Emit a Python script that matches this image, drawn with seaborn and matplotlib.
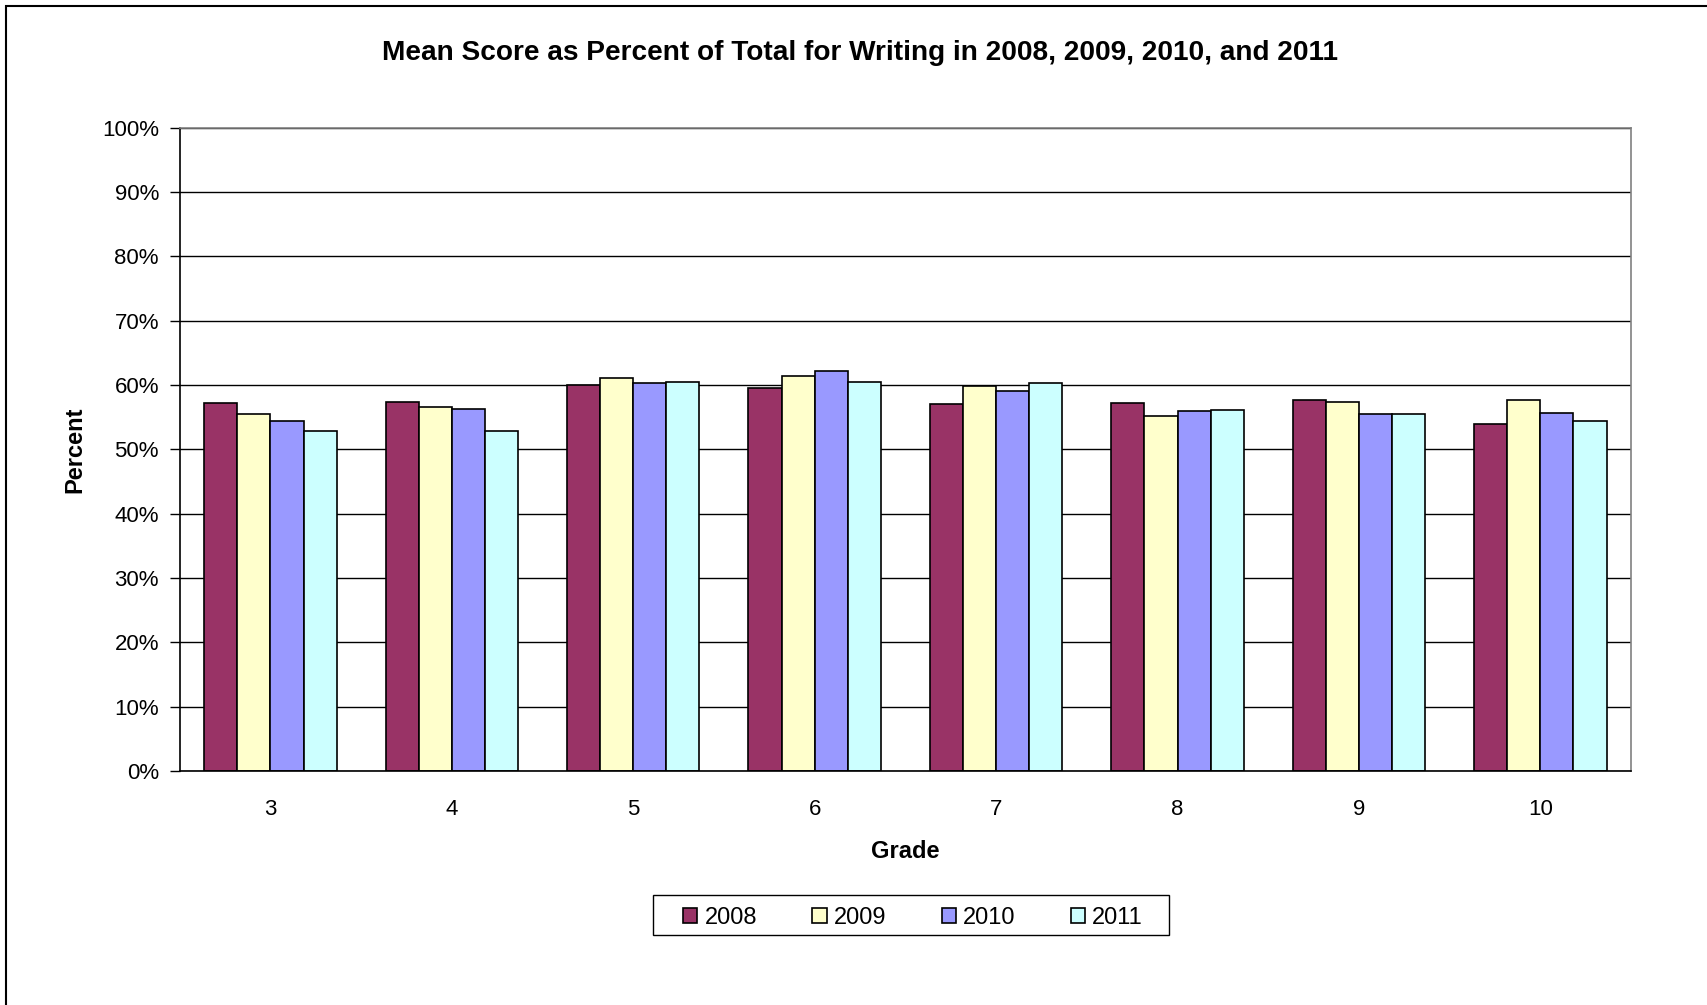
import matplotlib
matplotlib.use('Agg')
import matplotlib.pyplot as plt
import seaborn as sns
import pandas as pd
from matplotlib.patches import Rectangle
from matplotlib.ticker import FixedLocator, PercentFormatter

sns.set_style("white")
plt.rcParams['font.family'] = ['Liberation Sans', 'DejaVu Sans']
plt.rcParams['text.color'] = 'black'
plt.rcParams['axes.labelcolor'] = 'black'
plt.rcParams['xtick.color'] = 'black'
plt.rcParams['ytick.color'] = 'black'

# Data (percent)
grades = ['3', '4', '5', '6', '7', '8', '9', '10']
years = ['2008', '2009', '2010', '2011']
score_2008 = [57.2, 57.4, 60.0, 59.5, 57.0, 57.2, 57.6, 54.0]
score_2009 = [55.5, 56.5, 61.1, 61.4, 59.8, 55.2, 57.4, 57.6]
score_2010 = [54.4, 56.3, 60.3, 62.2, 59.0, 55.9, 55.5, 55.7]
score_2011 = [52.9, 52.9, 60.5, 60.5, 60.3, 56.1, 55.5, 54.4]
colors = ['#993366', '#FFFFCC', '#9999FF', '#CCFFFF']

rows = []
for yr, vals in zip(years, [score_2008, score_2009, score_2010, score_2011]):
    for g, v in zip(grades, vals):
        rows.append({'Grade': g, 'Year': yr, 'Percent': v})
df = pd.DataFrame(rows)

fig = plt.figure(figsize=(17.07, 10.05), dpi=100)
ax = fig.add_axes([0.1053, 0.2328, 0.9555 - 0.1053, 0.8731 - 0.2328])

ax.set_axisbelow(True)
ax.yaxis.grid(True, color='black', linewidth=1.0)
sns.barplot(data=df, x='Grade', y='Percent', hue='Year', order=grades,
            hue_order=years, palette=colors, width=0.73, gap=0,
            edgecolor='black', linewidth=1.2, saturation=1, ax=ax, legend=True)

ax.set_ylim(0, 100)
ax.set_xlim(-0.5, len(grades) - 0.5)
ax.set_yticks(range(0, 101, 10))
ax.yaxis.set_major_formatter(PercentFormatter(decimals=0))
ax.xaxis.set_minor_locator(FixedLocator([i - 0.5 for i in range(len(grades) + 1)]))
ax.tick_params(axis='x', which='major', length=0, pad=20, labelsize=16)
ax.tick_params(axis='x', which='minor', length=7, width=1, color='black', direction='out')
ax.tick_params(axis='y', length=7, width=1, color='black', direction='out', pad=8, labelsize=16, left=True)

for s in ['left', 'bottom']:
    ax.spines[s].set_color('black')
    ax.spines[s].set_linewidth(1.2)
for s in ['top', 'right']:
    ax.spines[s].set_color('#808080')
    ax.spines[s].set_linewidth(1.2)

ax.set_xlabel('Grade', fontsize=17, fontweight='bold', labelpad=14.5)
ax.set_ylabel('Percent', fontsize=17, fontweight='bold', labelpad=11.3)

fig.text(0.504, 0.947, 'Mean Score as Percent of Total for Writing in 2008, 2009, 2010, and 2011',
         ha='center', va='center', fontsize=20.2, fontweight='bold')

# legend without its own frame, the box is drawn separately (Excel style, wide padding)
ax.legend_.remove()
leg = fig.legend(*ax.get_legend_handles_labels(), loc='center', bbox_to_anchor=(0.5349, 0.0863),
                 ncol=4, frameon=False, fontsize=17,
                 handlelength=0.6, handleheight=0.6, handletextpad=0.3, columnspacing=2.35,
                 borderpad=0.2)
fig.patches.append(Rectangle((0.3825, 0.0697), 0.3023, 0.0398, transform=fig.transFigure,
                             fill=False, edgecolor='black', linewidth=1.0))

fig.patches.append(Rectangle((6 / 1707, -0.1), 1.2, 1 - 6 / 1005 + 0.1, transform=fig.transFigure,
                             fill=False, edgecolor='black', linewidth=1.5))

fig.savefig('out.png', dpi=100)
